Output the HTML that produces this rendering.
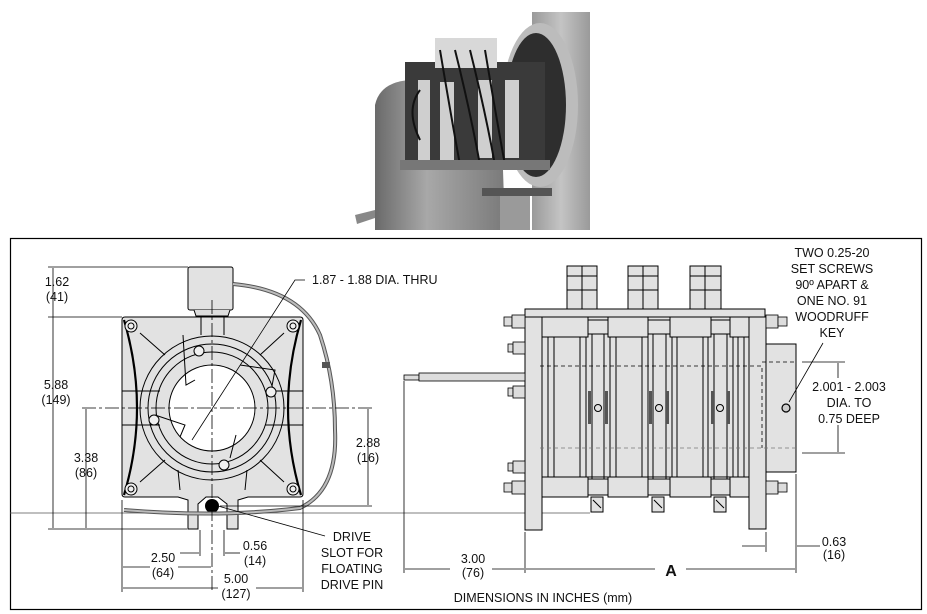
<!DOCTYPE html>
<html><head><meta charset="utf-8"><style>
html,body{margin:0;padding:0;background:#fff}
svg{display:block}
text{font-family:"Liberation Sans",Arial,sans-serif;font-size:12.5px;fill:#111}
</style></head><body>
<svg width="927" height="614" viewBox="0 0 927 614" xmlns="http://www.w3.org/2000/svg">
<defs>
<linearGradient id="cyl" x1="0" x2="1"><stop offset="0" stop-color="#6a6a6a"/><stop offset="0.4" stop-color="#a8a8a8"/><stop offset="1" stop-color="#7a7a7a"/></linearGradient>
<linearGradient id="hs" x1="0" x2="1"><stop offset="0" stop-color="#9a9a9a"/><stop offset="0.5" stop-color="#c4c4c4"/><stop offset="1" stop-color="#9a9a9a"/></linearGradient>
</defs>
<!-- photo -->
<g>
<rect x="532" y="12" width="58" height="218" fill="url(#hs)"/>
<ellipse cx="540" cy="105" rx="38" ry="82" fill="#bcbcbc"/>
<ellipse cx="536" cy="105" rx="30" ry="72" fill="#2e2e2e"/>
<path d="M375 230 L375 105 Q380 82 410 80 L500 80 L505 230 Z" fill="url(#cyl)"/>
<rect x="500" y="188" width="30" height="42" fill="#9a9a9a"/>
<rect x="482" y="188" width="70" height="8" fill="#555"/>
<rect x="405" y="62" width="140" height="108" fill="#3a3a3a"/>
<rect x="435" y="38" width="62" height="30" fill="#d8d8d8"/>
<g fill="#cfcfcf"><rect x="418" y="80" width="12" height="80"/><rect x="440" y="82" width="14" height="78"/><rect x="478" y="80" width="14" height="78"/><rect x="505" y="80" width="14" height="78"/></g>
<g stroke="#111" stroke-width="2" fill="none"><path d="M440 50 Q450 110 460 165"/><path d="M455 50 Q470 110 480 165"/><path d="M470 50 Q485 110 495 165"/><path d="M485 50 Q495 110 505 165"/><path d="M420 90 Q405 110 420 140"/></g>
<rect x="400" y="160" width="150" height="10" fill="#777"/>
<path d="M355 215 L375 210 L375 218 L357 224 Z" fill="#888"/>
</g>
<!-- frame -->
<rect x="10.5" y="238.5" width="911" height="371" fill="none" stroke="#000" stroke-width="1.2"/>
<line x1="10" y1="513" x2="590" y2="513" stroke="#555" stroke-width="0.8"/>

<!-- LEFT VIEW -->
<g stroke="#000" stroke-width="1" fill="#e2e2e2">
<path d="M188 529 L188 500 L178 497 L125 497 Q122 497 122 494 L122 320 Q122 317 125 317 L300 317 Q303 317 303 320 L303 494 Q303 497 300 497 L248 497 L238 500 L238 529 L227 529 L227 504 L218 497 L206 497 L198 504 L198 529 Z"/>
<circle cx="212" cy="408" r="72" fill="#e2e2e2"/>
<circle cx="212" cy="408" r="64" fill="none"/>
<circle cx="212" cy="408" r="56" fill="none"/>
<circle cx="212" cy="408" r="43" fill="#fff"/>
<rect x="188" y="267" width="45" height="43" rx="2"/>
<path d="M194 310 L196 316 L228 316 L230 310" fill="#ddd"/>
</g>
<g stroke="#000" stroke-width="1" fill="none">
<path d="M124 320 Q150 408 124 495" stroke-width="2.2"/>
<path d="M301 320 Q275 408 301 495" stroke-width="2.2"/>
<path d="M140 333 L165 355 M284 333 L260 355 M140 482 L165 460 M284 482 L260 460"/>
<path d="M122 391 L160 391 M122 425 L160 425 M303 391 L265 391 M303 425 L265 425"/>
<path d="M180 490 L178 470 M245 490 L247 470"/>
<path d="M183 335 L186 385 L195 380 M240 365 L275 370 L272 386 M155 415 L185 425 L180 437 M236 435 L230 458"/>
<path d="M201 317 L201 335 M224 317 L224 335"/>
</g>
<g stroke="#000" fill="#f0f0f0" stroke-width="1">
<circle cx="131" cy="326" r="6"/><circle cx="131" cy="326" r="3"/>
<circle cx="293" cy="326" r="6"/><circle cx="293" cy="326" r="3"/>
<circle cx="131" cy="489" r="6"/><circle cx="131" cy="489" r="3"/>
<circle cx="293" cy="489" r="6"/><circle cx="293" cy="489" r="3"/>
<circle cx="199" cy="351" r="5"/><circle cx="271" cy="392" r="5"/><circle cx="154" cy="420" r="5"/><circle cx="224" cy="465" r="5"/>
</g>
<circle cx="212" cy="506" r="7" fill="#000"/>
<!-- cable -->
<path d="M233 284 Q300 290 320 335 Q335 380 335 430 Q338 490 300 508 Q220 518 124 510" fill="none" stroke="#555" stroke-width="4"/>
<path d="M233 284 Q300 290 320 335 Q335 380 335 430 Q338 490 300 508 Q220 518 124 510" fill="none" stroke="#bbb" stroke-width="2"/>
<rect x="322" y="362" width="8" height="6" fill="#555"/>
<!-- centerlines -->
<g stroke="#000" stroke-width="0.8" stroke-dasharray="14,3,3,3" fill="none">
<line x1="82" y1="408" x2="372" y2="408"/><line x1="212" y1="300" x2="212" y2="592"/>
</g>
<!-- left dims -->
<g stroke="#000" stroke-width="0.8" fill="none">
<line x1="48" y1="267" x2="188" y2="267"/><line x1="48" y1="317" x2="122" y2="317"/><line x1="48" y1="529" x2="187" y2="529"/>
<line x1="53" y1="268" x2="53" y2="528"/><line x1="86" y1="409" x2="86" y2="528"/>
<line x1="220" y1="506" x2="372" y2="506"/><line x1="368" y1="409" x2="368" y2="505"/>
<line x1="122" y1="500" x2="122" y2="592"/><line x1="303" y1="500" x2="303" y2="592"/>
<line x1="200" y1="530" x2="200" y2="556"/><line x1="224" y1="530" x2="224" y2="556"/>
<line x1="123" y1="567" x2="150" y2="567"/><line x1="178" y1="567" x2="211" y2="567"/>
<line x1="180" y1="553" x2="199" y2="553"/><line x1="225" y1="553" x2="240" y2="553"/>
<line x1="123" y1="588" x2="218" y2="588"/><line x1="256" y1="588" x2="302" y2="588"/>
<path d="M305 280 L295 280 L192 440"/>
<path d="M218 506 L325 536"/>
</g>
<g text-anchor="middle">
<text x="57" y="286">1.62</text><text x="57" y="301">(41)</text>
<text x="56" y="389">5.88</text><text x="56" y="404">(149)</text>
<text x="86" y="462">3.38</text><text x="86" y="477">(86)</text>
<text x="368" y="447">2.88</text><text x="368" y="462">(16)</text>
<text x="163" y="562">2.50</text><text x="163" y="577">(64)</text>
<text x="255" y="550">0.56</text><text x="255" y="565">(14)</text>
<text x="236" y="583">5.00</text><text x="236" y="598">(127)</text>
<text x="352" y="541">DRIVE</text><text x="352" y="557">SLOT FOR</text><text x="352" y="573">FLOATING</text><text x="352" y="589">DRIVE PIN</text>
</g>
<text x="312" y="284">1.87 - 1.88 DIA. THRU</text>

<!-- RIGHT VIEW -->
<g stroke="#000" stroke-width="1" fill="#e2e2e2">
<rect x="766" y="344" width="30" height="128"/>
<rect x="567" y="266" width="30" height="43"/><rect x="628" y="266" width="30" height="43"/><rect x="690" y="266" width="31" height="43"/>
<rect x="525" y="309" width="240" height="8"/>
<rect x="542" y="317" width="207" height="160"/>
<rect x="542" y="317" width="46" height="20"/><rect x="588" y="320" width="20" height="14"/><rect x="608" y="317" width="40" height="20"/><rect x="648" y="320" width="22" height="14"/><rect x="670" y="317" width="41" height="20"/><rect x="711" y="320" width="19" height="14"/><rect x="730" y="317" width="19" height="20"/>
<rect x="542" y="477" width="46" height="20"/><rect x="588" y="479" width="20" height="16"/><rect x="608" y="477" width="40" height="20"/><rect x="648" y="479" width="22" height="16"/><rect x="670" y="477" width="41" height="20"/><rect x="711" y="479" width="19" height="16"/><rect x="730" y="477" width="19" height="20"/>
<rect x="525" y="317" width="17" height="213"/><rect x="749" y="317" width="17" height="212"/>
<rect x="591" y="497" width="12" height="15"/><rect x="652" y="497" width="12" height="15"/><rect x="714" y="497" width="12" height="15"/>
</g>
<g stroke="#000" stroke-width="1" fill="none">
<path d="M548 337V477M554 337V477M580 337V477M586 337V477M592 334V479M604 334V479M610 337V477M616 337V477M642 337V477M648 337V477M653 334V479M666 334V479M672 337V477M677 337V477M703 337V477M708 337V477M714 334V479M727 334V479M733 337V477M738 337V477M744 337V477"/>
<path d="M582 266V309M643 266V309M705 266V309M567 290H597M628 290H658M690 290H721M567 276H597M628 276H658M690 276H721"/>
<circle cx="598" cy="408" r="3.5"/><circle cx="659" cy="408" r="3.5"/><circle cx="720" cy="408" r="3.5"/>
<path d="M593 500L601 508M654 500L662 508M716 500L724 508"/>
</g>
<g fill="#555"><rect x="588" y="391" width="3" height="33"/><rect x="605" y="391" width="3" height="33"/><rect x="649" y="391" width="3" height="33"/><rect x="666" y="391" width="3" height="33"/><rect x="711" y="391" width="3" height="33"/><rect x="727" y="391" width="3" height="33"/></g>
<g stroke="#000" stroke-width="0.8" stroke-dasharray="4,3" fill="none">
<path d="M540 366H762V448M762 362H796"/><path d="M540 448H796" stroke="#777"/>
</g>
<!-- nuts -->
<g stroke="#000" stroke-width="0.8" fill="#ddd">
<rect x="504" y="317" width="8" height="9"/><rect x="512" y="315" width="13" height="13"/>
<rect x="508" y="344" width="5" height="8"/><rect x="513" y="342" width="12" height="12"/>
<rect x="508" y="388" width="5" height="8"/><rect x="513" y="386" width="12" height="12"/>
<rect x="508" y="463" width="5" height="8"/><rect x="513" y="461" width="12" height="12"/>
<rect x="504" y="483" width="8" height="9"/><rect x="512" y="481" width="13" height="13"/>
<rect x="766" y="315" width="12" height="13"/><rect x="778" y="317" width="9" height="9"/>
<rect x="766" y="481" width="12" height="13"/><rect x="778" y="483" width="9" height="9"/>
</g>
<!-- wire -->
<rect x="404" y="375" width="15" height="5" fill="#ddd" stroke="#000" stroke-width="0.8"/>
<rect x="419" y="373" width="106" height="8" fill="#ddd" stroke="#000" stroke-width="0.8"/>
<!-- right dims -->
<g stroke="#000" stroke-width="0.8" fill="none">
<line x1="404" y1="381" x2="404" y2="573"/><line x1="525" y1="532" x2="525" y2="573"/><line x1="796" y1="474" x2="796" y2="573"/>
<line x1="405" y1="569" x2="450" y2="569"/><line x1="492" y1="569" x2="524" y2="569"/>
<line x1="526" y1="569" x2="655" y2="569"/><line x1="686" y1="569" x2="795" y2="569"/>
<line x1="766" y1="532" x2="766" y2="552"/><line x1="742" y1="546" x2="765" y2="546"/><line x1="797" y1="546" x2="820" y2="546"/>
<line x1="802" y1="362" x2="845" y2="362"/><line x1="802" y1="453" x2="845" y2="453"/>
<line x1="838" y1="363" x2="838" y2="378"/><line x1="838" y1="425" x2="838" y2="452"/>
<line x1="823" y1="343" x2="789" y2="402"/>
</g>
<circle cx="786" cy="408" r="4" fill="#ccc" stroke="#000" stroke-width="1.2"/>
<g text-anchor="middle">
<text x="832" y="257">TWO 0.25-20</text><text x="832" y="273">SET SCREWS</text><text x="832" y="289">90º APART &amp;</text><text x="832" y="305">ONE NO. 91</text><text x="832" y="321">WOODRUFF</text><text x="832" y="337">KEY</text>
<text x="849" y="391">2.001 - 2.003</text><text x="849" y="407">DIA. TO</text><text x="849" y="423">0.75 DEEP</text>
<text x="473" y="563">3.00</text><text x="473" y="577">(76)</text>
<text x="834" y="546">0.63</text><text x="834" y="559">(16)</text>
<text x="671" y="576" style="font-size:16px;font-weight:bold">A</text>
<text x="543" y="602">DIMENSIONS IN INCHES (mm)</text>
</g>
</svg>
</body></html>
